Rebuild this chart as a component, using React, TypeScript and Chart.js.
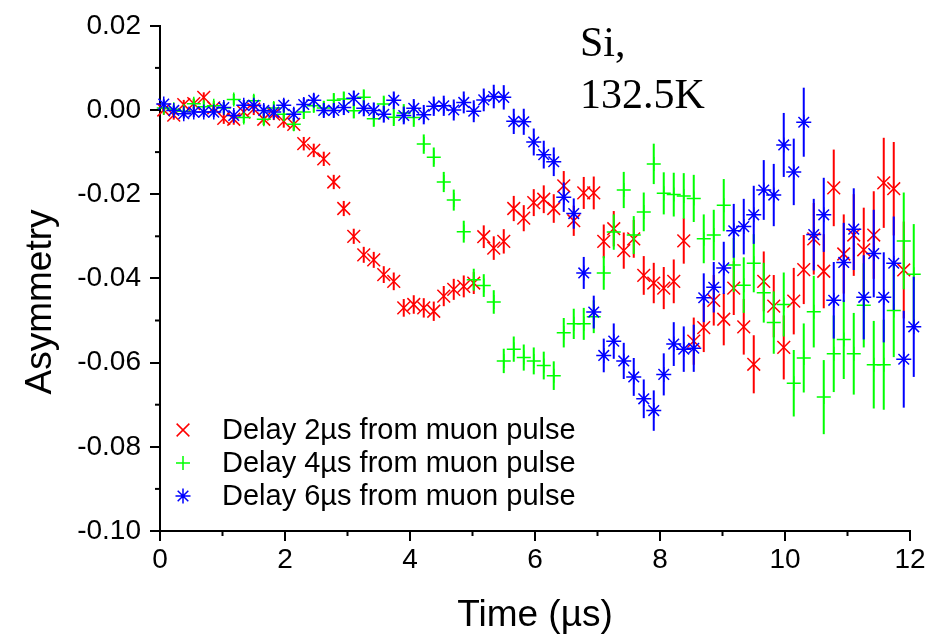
import React, { useEffect, useRef } from 'react';
import { Chart, registerables } from 'chart.js';

Chart.register(...registerables);

const TIME_US = [
  0.06, 0.22, 0.38, 0.54, 0.70, 0.86, 1.02, 1.18, 1.34, 1.50,
  1.66, 1.82, 1.98, 2.14, 2.30, 2.46, 2.62, 2.78, 2.94, 3.10,
  3.26, 3.42, 3.58, 3.74, 3.90, 4.06, 4.22, 4.38, 4.54, 4.70,
  4.86, 5.02, 5.18, 5.34, 5.50, 5.66, 5.82, 5.98, 6.14, 6.30,
  6.46, 6.62, 6.78, 6.94, 7.10, 7.26, 7.42, 7.58, 7.74, 7.90,
  8.06, 8.22, 8.38, 8.54, 8.70, 8.86, 9.02, 9.18, 9.34, 9.50,
  9.66, 9.82, 9.98, 10.14, 10.30, 10.46, 10.62, 10.78, 10.94, 11.10,
  11.26, 11.42, 11.58, 11.74, 11.90, 12.06,
];

const DELAY_2US = [
  0.0000, -0.0012, 0.0013, 0.0015, 0.0030, 0.0005, -0.0020, -0.0022, -0.0005, 0.0002,
  -0.0022, -0.0010, -0.0027, -0.0034, -0.0080, -0.0096, -0.0116, -0.0171, -0.0234, -0.0300,
  -0.0344, -0.0356, -0.0391, -0.0407, -0.0470, -0.0462, -0.0470, -0.0478, -0.0442, -0.0426,
  -0.0419, -0.0411, -0.0301, -0.0328, -0.0312, -0.0234, -0.0257, -0.0220, -0.0212, -0.0234,
  -0.0180, -0.0263, -0.0197, -0.0197, -0.0312, -0.0282, -0.0334, -0.0306, -0.0393, -0.0411,
  -0.0423, -0.0407, -0.0311, -0.0549, -0.0517, -0.0452, -0.0497, -0.0423, -0.0515, -0.0604,
  -0.0407, -0.0466, -0.0564, -0.0454, -0.0379, -0.0306, -0.0383, -0.0185, -0.0342, -0.0297,
  -0.0332, -0.0297, -0.0173, -0.0187, -0.0380,
];

const DELAY_4US = [
  0.0005, 0.0002, -0.0003, 0.0015, 0.0008, 0.0010, 0.0005, 0.0025, -0.0018, 0.0022,
  -0.0022, 0.0005, -0.0010, -0.0034, -0.0005, 0.0010, 0.0005, 0.0023, 0.0026, -0.0002,
  0.0030, -0.0021, 0.0014, -0.0017, -0.0007, -0.0018, -0.0081, -0.0112, -0.0171, -0.0214,
  -0.0289, -0.0403, -0.0417, -0.0456, -0.0596, -0.0568, -0.0588, -0.0596, -0.0607, -0.0631,
  -0.0529, -0.0508, -0.0508, -0.0491, -0.0387, -0.0290, -0.0190, -0.0297, -0.0242, -0.0128,
  -0.0198, -0.0201, -0.0204, -0.0210, -0.0306, -0.0297, -0.0226, -0.0368, -0.0416, -0.0364,
  -0.0434, -0.0505, -0.0462, -0.0649, -0.0589, -0.0479, -0.0682, -0.0579, -0.0545, -0.0579,
  -0.0464, -0.0605, -0.0605, -0.0476, -0.0311, -0.0390,
];

const DELAY_6US = [
  0.0014, -0.0001, -0.0009, -0.0005, -0.0005, -0.0005, 0.0006, -0.0013, 0.0011, 0.0011,
  -0.0001, -0.0005, 0.0011, -0.0010, 0.0013, 0.0023, -0.0001, -0.0001, 0.0006, 0.0028,
  0.0004, -0.0001, -0.0010, 0.0023, -0.0013, 0.0004, -0.0011, 0.0009, 0.0010, 0.0000,
  0.0018, -0.0003, 0.0024, 0.0032, 0.0030, -0.0027, -0.0028, -0.0076, -0.0106, -0.0123,
  -0.0207, -0.0246, -0.0387, -0.0480, -0.0583, -0.0549, -0.0596, -0.0634, -0.0686, -0.0714,
  -0.0628, -0.0556, -0.0568, -0.0566, -0.0446, -0.0421, -0.0375, -0.0287, -0.0277, -0.0249,
  -0.0190, -0.0202, -0.0083, -0.0147, -0.0029, -0.0296, -0.0249, -0.0452, -0.0362, -0.0283,
  -0.0445, -0.0341, -0.0445, -0.0364, -0.0592, -0.0515,
];

// half-length of error bars per time bin
const ERROR_BAR = [
  0.0011, 0.0011, 0.0011, 0.0012, 0.0012, 0.0012, 0.0013, 0.0013, 0.0013, 0.0014,
  0.0014, 0.0014, 0.0015, 0.0015, 0.0016, 0.0016, 0.0017, 0.0017, 0.0018, 0.0018,
  0.0019, 0.0019, 0.0020, 0.0021, 0.0021, 0.0022, 0.0023, 0.0023, 0.0024, 0.0025,
  0.0026, 0.0026, 0.0027, 0.0028, 0.0029, 0.0030, 0.0031, 0.0032, 0.0033, 0.0034,
  0.0035, 0.0036, 0.0038, 0.0039, 0.0040, 0.0042, 0.0043, 0.0045, 0.0046, 0.0048,
  0.0050, 0.0052, 0.0054, 0.0056, 0.0058, 0.0060, 0.0062, 0.0064, 0.0066, 0.0069,
  0.0071, 0.0074, 0.0076, 0.0079, 0.0082, 0.0085, 0.0088, 0.0091, 0.0094, 0.0097,
  0.0100, 0.0104, 0.0107, 0.0111, 0.0115, 0.0119,
];

const SERIES_LABELS = [
  'Delay 2\u00b5s from muon pulse',
  'Delay 4\u00b5s from muon pulse',
  'Delay 6\u00b5s from muon pulse',
];
const SERIES_COLORS = ['#ff0000', '#00ff00', '#0000ff'];
const SERIES_MARKERS = ['crossRot', 'cross', 'star'];
const SERIES_RADIUS = [9, 7, 7.5];
const SERIES_VALUES = [DELAY_2US, DELAY_4US, DELAY_6US];

const X_TITLE = 'Time (\u00b5s)';
const Y_TITLE = 'Asymmetry';
const NOTE_LINES = ['Si,', '132.5K'];

const SANS = '"Liberation Sans", Arial, Helvetica, sans-serif';
const SERIF = '"Liberation Serif", "Times New Roman", serif';

function drawMarker(ctx: CanvasRenderingContext2D, style: string, x: number, y: number, r: number) {
  ctx.beginPath();
  if (style === 'cross' || style === 'star') {
    ctx.moveTo(x - r, y); ctx.lineTo(x + r, y);
    ctx.moveTo(x, y - r); ctx.lineTo(x, y + r);
  }
  if (style === 'crossRot' || style === 'star') {
    const d = r * Math.SQRT1_2;
    ctx.moveTo(x - d, y - d); ctx.lineTo(x + d, y + d);
    ctx.moveTo(x - d, y + d); ctx.lineTo(x + d, y - d);
  }
  ctx.stroke();
}

const errorBarPlugin = {
  id: 'errorBars',
  beforeDatasetDraw(chart: any, args: any) {
    const ds = chart.data.datasets[args.index];
    const errs: number[] = ds.errors;
    if (!errs) return;
    const yScale = chart.scales.y;
    const ctx = chart.ctx;
    ctx.save();
    ctx.strokeStyle = ds.borderColor;
    ctx.lineWidth = 2;
    args.meta.data.forEach((pt: any, i: number) => {
      const v = ds.data[i].y;
      const e = errs[i];
      const y1 = yScale.getPixelForValue(v + e);
      const y2 = yScale.getPixelForValue(v - e);
      ctx.beginPath();
      ctx.moveTo(pt.x, y1);
      ctx.lineTo(pt.x, y2);
      ctx.stroke();
    });
    ctx.restore();
  },
};

const decorPlugin = {
  id: 'decor',
  afterDraw(chart: any) {
    const ctx = chart.ctx as CanvasRenderingContext2D;
    const xs = chart.scales.x;
    const ys = chart.scales.y;
    const area = chart.chartArea;
    ctx.save();
    ctx.strokeStyle = '#000';
    ctx.lineWidth = 2;
    // minor ticks halfway between major ticks
    const xt = xs.ticks.map((t: any) => t.value);
    for (let i = 0; i < xt.length - 1; i++) {
      const px = xs.getPixelForValue((xt[i] + xt[i + 1]) / 2);
      ctx.beginPath();
      ctx.moveTo(px, area.bottom);
      ctx.lineTo(px, area.bottom + 5);
      ctx.stroke();
    }
    const yt = ys.ticks.map((t: any) => t.value);
    for (let i = 0; i < yt.length - 1; i++) {
      const py = ys.getPixelForValue((yt[i] + yt[i + 1]) / 2);
      ctx.beginPath();
      ctx.moveTo(area.left, py);
      ctx.lineTo(area.left - 5, py);
      ctx.stroke();
    }

    // axis titles
    ctx.fillStyle = '#000';
    ctx.font = `37px ${SANS}`;
    ctx.textAlign = 'center';
    ctx.textBaseline = 'alphabetic';
    ctx.fillText(X_TITLE, (area.left + area.right) / 2, 626);
    ctx.save();
    ctx.translate(51, 302);
    ctx.rotate(-Math.PI / 2);
    ctx.fillText(Y_TITLE, 0, 0);
    ctx.restore();

    // annotation
    ctx.font = `42px ${SERIF}`;
    ctx.textAlign = 'left';
    ctx.fillText(NOTE_LINES[0], 580, 56);
    ctx.fillText(NOTE_LINES[1], 580, 108);

    // legend
    ctx.font = `29px ${SANS}`;
    ctx.textBaseline = 'middle';
    const rows = [430, 463, 496];
    SERIES_LABELS.forEach((label, i) => {
      ctx.strokeStyle = SERIES_COLORS[i];
      ctx.lineWidth = 1.5;
      drawMarker(ctx, SERIES_MARKERS[i], 183, rows[i], SERIES_RADIUS[i]);
      ctx.fillStyle = '#000';
      ctx.fillText(label, 222, rows[i] + 1);
    });
    ctx.restore();
  },
};

export default function App() {
  const ref = useRef<HTMLCanvasElement>(null);
  useEffect(() => {
    const canvas = ref.current!;
    const datasets = SERIES_VALUES.map((vals, i) => ({
      label: SERIES_LABELS[i],
      data: vals.map((v, k) => ({ x: TIME_US[k], y: v })),
      errors: ERROR_BAR.slice(0, vals.length),
      borderColor: SERIES_COLORS[i],
      backgroundColor: SERIES_COLORS[i],
      pointStyle: SERIES_MARKERS[i],
      pointRadius: SERIES_RADIUS[i],
      pointBorderWidth: 1.5,
      showLine: false,
      clip: false,
      order: 3 - i,
    }));
    const tickFont = { family: SANS, size: 28 };
    const chart = new Chart(canvas, {
      type: 'scatter',
      data: { datasets } as any,
      options: {
        responsive: false,
        maintainAspectRatio: false,
        animation: false,
        events: [],
        layout: { padding: { top: 23, right: 26, left: 0, bottom: 0 } },
        plugins: { legend: { display: false }, tooltip: { enabled: false } },
        scales: {
          x: {
            type: 'linear',
            min: 0,
            max: 12,
            ticks: { stepSize: 2, color: '#000', font: tickFont, padding: 2, maxRotation: 0 },
            grid: { drawOnChartArea: false, drawTicks: true, tickLength: 10, color: '#000', lineWidth: 2 },
            border: { display: true, color: '#000', width: 2 },
            afterFit: (s: any) => { s.height = 106; },
          },
          y: {
            type: 'linear',
            min: -0.1,
            max: 0.02,
            ticks: {
              stepSize: 0.02,
              color: '#000',
              font: tickFont,
              padding: 9,
              callback: (v: any) => Number(v).toFixed(2),
            },
            grid: { drawOnChartArea: false, drawTicks: true, tickLength: 10, color: '#000', lineWidth: 2 },
            border: { display: true, color: '#000', width: 2 },
            afterFit: (s: any) => { s.width = 160; },
          },
        },
      } as any,
      plugins: [errorBarPlugin, decorPlugin],
    });
    return () => chart.destroy();
  }, []);
  return (
    <div style={{ position: 'absolute', left: 0, top: 0, width: 936, height: 637, background: '#fff' }}>
      <canvas ref={ref} width={936} height={637} style={{ display: 'block', width: 936, height: 637 }} />
    </div>
  );
}
